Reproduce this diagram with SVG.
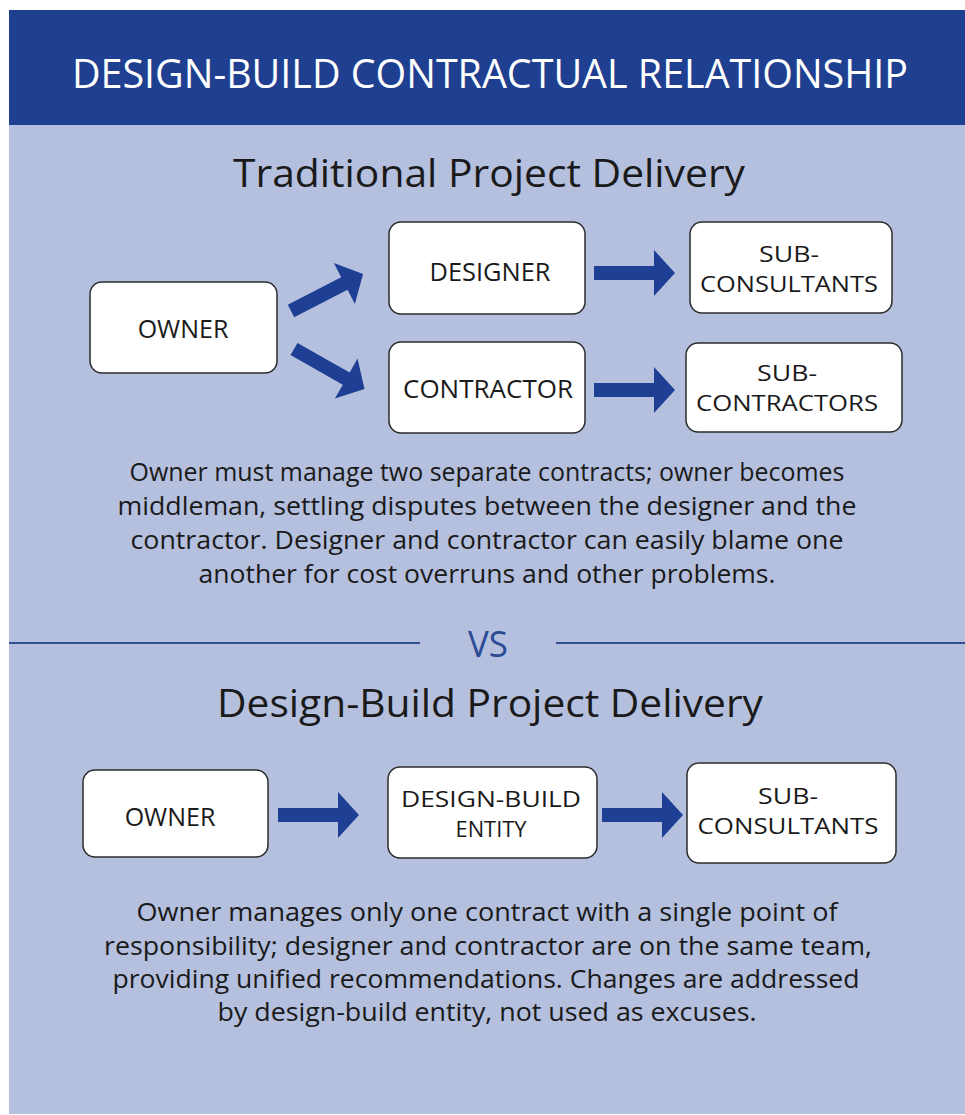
<svg xmlns="http://www.w3.org/2000/svg" width="965" height="1115" viewBox="0 0 965 1115">
<style>
.bg{fill:#b4c0de}
.hdr{fill:#1f3f90}
.title{font-family:"Open Sans","Liberation Sans",sans-serif;font-size:40px;fill:#ffffff;text-anchor:middle}
.h2{font-family:"Open Sans","Liberation Sans",sans-serif;font-size:39px;fill:#1a1a1a;text-anchor:middle}
.vs{font-family:"Open Sans","Liberation Sans",sans-serif;font-size:37px;fill:#2c4a94;text-anchor:middle}
.body{font-family:"Open Sans","Liberation Sans",sans-serif;font-size:25px;fill:#1a1a1a;text-anchor:middle}
.box{fill:#ffffff;stroke:#2b2b2b;stroke-width:1.5}
.lbl{font-family:"Open Sans","Liberation Sans",sans-serif;font-size:25px;fill:#1a1a1a;text-anchor:middle}
.lbl2{font-family:"Open Sans","Liberation Sans",sans-serif;font-size:22px;fill:#1a1a1a;text-anchor:middle}
.arrow{fill:#1f3f94}
.rule{stroke:#30508f;stroke-width:2}
</style>
<defs>
<path id="arr" class="arrow" d="M0,-7 H60 V-23 L81,0 L60,23 V7 H0 Z"/>
</defs>
<rect x="0" y="0" width="965" height="1115" fill="#ffffff"/>
<rect class="bg" x="9" y="10" width="956" height="1104"/>
<rect class="hdr" x="9" y="10" width="956" height="115"/>
<text class="title" x="490" y="88" textLength="836" lengthAdjust="spacingAndGlyphs">DESIGN-BUILD CONTRACTUAL RELATIONSHIP</text>
<text class="h2" x="489" y="187" textLength="512" lengthAdjust="spacingAndGlyphs">Traditional Project Delivery</text>

<g id="connectors">
<use href="#arr" transform="translate(291,311) rotate(-27.2)"/>
<use href="#arr" transform="translate(294,349) rotate(29.5)"/>
<use href="#arr" transform="translate(594,273)"/>
<use href="#arr" transform="translate(594,390)"/>
<use href="#arr" transform="translate(278,815)"/>
<use href="#arr" transform="translate(602,815)"/>
</g>

<g id="owner-top">
<rect class="box" x="90" y="282" width="187" height="91" rx="12"/>
<text class="lbl" x="183" y="338">OWNER</text>
</g>
<g id="designer">
<rect class="box" x="389" y="222" width="196" height="92" rx="12"/>
<text class="lbl" x="490" y="281" textLength="121" lengthAdjust="spacingAndGlyphs">DESIGNER</text>
</g>
<g id="contractor">
<rect class="box" x="389" y="342" width="196" height="91" rx="12"/>
<text class="lbl" x="488" y="398" textLength="170" lengthAdjust="spacingAndGlyphs">CONTRACTOR</text>
</g>
<g id="subconsultants-top">
<rect class="box" x="690" y="222" width="202" height="91" rx="12"/>
<text class="lbl2" x="789" y="262" textLength="60" lengthAdjust="spacingAndGlyphs">SUB-</text>
<text class="lbl2" x="789" y="292" textLength="178" lengthAdjust="spacingAndGlyphs">CONSULTANTS</text>
</g>
<g id="subcontractors">
<rect class="box" x="686" y="343" width="216" height="89" rx="12"/>
<text class="lbl2" x="787" y="381" textLength="60" lengthAdjust="spacingAndGlyphs">SUB-</text>
<text class="lbl2" x="787" y="411" textLength="182" lengthAdjust="spacingAndGlyphs">CONTRACTORS</text>
</g>

<g id="para1">
<text class="body" x="487" y="481" textLength="715" lengthAdjust="spacingAndGlyphs">Owner must manage two separate contracts; owner becomes</text>
<text class="body" x="487" y="515" textLength="739" lengthAdjust="spacingAndGlyphs">middleman, settling disputes between the designer and the</text>
<text class="body" x="487" y="549" textLength="713" lengthAdjust="spacingAndGlyphs">contractor. Designer and contractor can easily blame one</text>
<text class="body" x="487" y="583" textLength="577" lengthAdjust="spacingAndGlyphs">another for cost overruns and other problems.</text>
</g>

<line class="rule" x1="9" y1="643" x2="420" y2="643"/>
<line class="rule" x1="556" y1="643" x2="965" y2="643"/>
<text class="vs" x="488" y="657" textLength="40" lengthAdjust="spacingAndGlyphs">VS</text>

<text class="h2" x="490" y="717" textLength="546" lengthAdjust="spacingAndGlyphs">Design-Build Project Delivery</text>

<g id="owner-bottom">
<rect class="box" x="83" y="770" width="185" height="87" rx="12"/>
<text class="lbl" x="170" y="826">OWNER</text>
</g>
<g id="design-build-entity">
<rect class="box" x="388" y="767" width="209" height="91" rx="12"/>
<text class="lbl2" x="491" y="807" textLength="180" lengthAdjust="spacingAndGlyphs">DESIGN-BUILD</text>
<text class="lbl2" x="491" y="837" textLength="71" lengthAdjust="spacingAndGlyphs">ENTITY</text>
</g>
<g id="subconsultants-bottom">
<rect class="box" x="687" y="763" width="209" height="100" rx="12"/>
<text class="lbl2" x="788" y="804" textLength="60" lengthAdjust="spacingAndGlyphs">SUB-</text>
<text class="lbl2" x="788" y="834" textLength="181" lengthAdjust="spacingAndGlyphs">CONSULTANTS</text>
</g>

<g id="para2">
<text class="body" x="487" y="921" textLength="701" lengthAdjust="spacingAndGlyphs">Owner manages only one contract with a single point of</text>
<text class="body" x="488" y="955" textLength="768" lengthAdjust="spacingAndGlyphs">responsibility; designer and contractor are on the same team,</text>
<text class="body" x="486" y="988" textLength="747" lengthAdjust="spacingAndGlyphs">providing unified recommendations. Changes are addressed</text>
<text class="body" x="487" y="1021" textLength="539" lengthAdjust="spacingAndGlyphs">by design-build entity, not used as excuses.</text>
</g>
</svg>
